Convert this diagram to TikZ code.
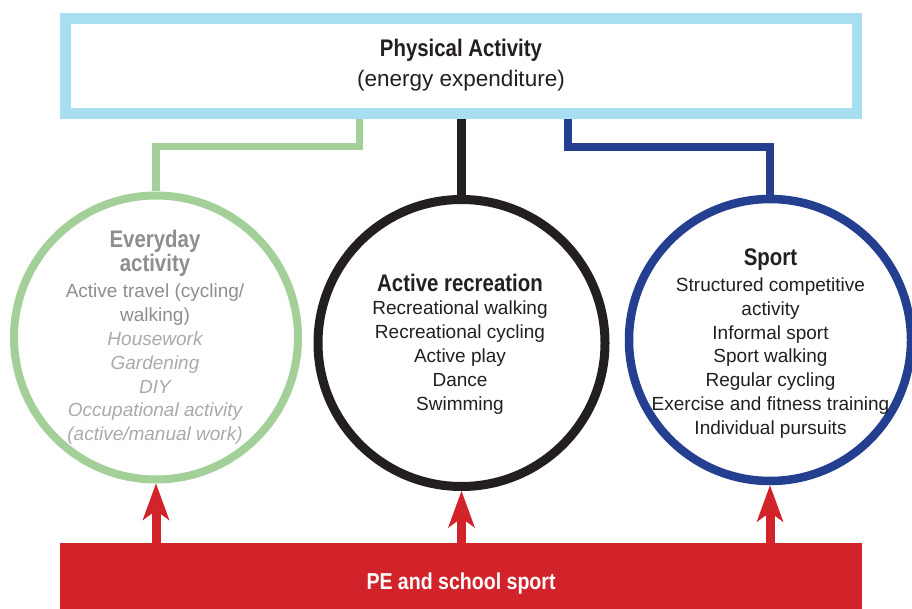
\documentclass[tikz,border=0pt]{standalone}
\usepackage{fontspec}
\setmainfont{Liberation Sans}
\newfontfamily\headfont[FakeStretch=0.85]{Liberation Sans}
\usetikzlibrary{arrows.meta}

\definecolor{paBlue}{HTML}{A8DEF2}
\definecolor{evGreen}{HTML}{A3CF98}
\definecolor{arBlack}{HTML}{231F20}
\definecolor{spNavy}{HTML}{243F8F}
\definecolor{peRed}{HTML}{D2232A}
\definecolor{evGray}{HTML}{8C8E91}
\definecolor{evLight}{HTML}{A8AAAD}

\begin{document}
\begin{tikzpicture}[x=1pt,y=-1pt,
  headtxt/.style={anchor=base, inner sep=0pt, text=arBlack,
    font=\headfont\bfseries\fontsize{24}{24}\selectfont},
  subtxt/.style={anchor=base, inner sep=0pt, text=arBlack,
    font=\fontsize{22.5}{22.5}\selectfont},
  bodytxt/.style={anchor=base, inner sep=0pt, text=arBlack,
    font=\fontsize{19}{19}\selectfont},
  ring/.style={circle, inner sep=0pt, fill=none},
  link/.style={line join=miter, line cap=butt},
  uparrow/.style={draw=peRed, line width=9pt,
    -{Stealth[length=37pt, width=27pt, inset=10pt, line width=0pt]}}
]
\fill[white] (0,0) rectangle (912,609);
\useasboundingbox (0,0) rectangle (912,609);

% top box
\node[draw=paBlue, line width=10.5pt, minimum width=791.5pt, minimum height=95pt,
      inner sep=0pt] (pa) at (461,66) {};
\node[headtxt] (paTitle) at (461,57) {Physical Activity};
\node[subtxt] (paSub) at (461,87) {(energy expenditure)};

% the three circles
\node[ring, draw=evGreen, line width=8pt, minimum size=284pt] (every) at (156,337.5) {};
\node[ring, draw=arBlack, line width=9pt, minimum size=287pt] (recr) at (461.5,343) {};
\node[ring, draw=spNavy, line width=8.5pt, minimum size=282pt] (sport) at (770,340) {};

% connectors from the top box
\draw[link, draw=evGreen, line width=7.5pt] ([xshift=-101.5pt]pa.south) -- ++(0,28) -| (every.north);
\draw[link, draw=arBlack, line width=9pt] (pa.south -| recr.north) -- (recr.north);
\draw[link, draw=spNavy, line width=8pt] ([xshift=106.5pt]pa.south) -- ++(0,28) -| (sport.north);

% everyday activity
\node[headtxt, text=evGray] (ev1) at (155,248) {Everyday};
\node[headtxt, text=evGray] (ev2) at (155,271.5) {activity};
\node[bodytxt, text=evGray] (ev3) at (155,298) {Active travel (cycling/};
\node[bodytxt, text=evGray] (ev4) at (155,321.75) {walking)};
\foreach \t [count=\i] in {Housework, Gardening, DIY, Occupational activity, (active/manual work)}
  \node[bodytxt, text=evLight, font=\fontsize{19}{19}\selectfont\itshape]
    (evi\i) at (155,{345.5+23.75*(\i-1)}) {\t};

% active recreation
\node[headtxt] (ar0) at (460,291.7) {Active recreation};
\foreach \t [count=\i] in {Recreational walking, Recreational cycling, Active play, Dance, Swimming}
  \node[bodytxt] (ar\i) at (460,{315+23.9*(\i-1)}) {\t};

% sport
\node[headtxt] (sp0) at (770.5,266) {Sport};
\foreach \t [count=\i] in {Structured competitive, activity, Informal sport, Sport walking,
    Regular cycling, Exercise and fitness training, Individual pursuits}
  \node[bodytxt] (sp\i) at (770.5,{291.5+23.75*(\i-1)}) {\t};

% PE and school sport bar
\node[fill=peRed, minimum width=802pt, minimum height=66pt, inner sep=0pt, outer sep=0pt]
  (pe) at (461,576) {};
\node[headtxt, text=white, font=\headfont\bfseries\fontsize{23}{23}\selectfont]
  (peLabel) at (461,589) {PE and school sport};

% arrows up into each circle
\draw[uparrow] (pe.north -| every.south) -- (every.south);
\draw[uparrow] (pe.north -| recr.south) -- (recr.south);
\draw[uparrow] (pe.north -| sport.south) -- (sport.south);
\end{tikzpicture}
\end{document}
